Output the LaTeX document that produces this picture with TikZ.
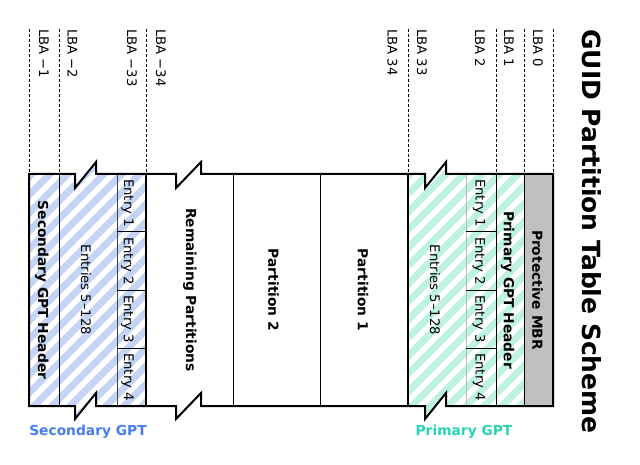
\documentclass[tikz,border=0pt]{standalone}
\usepackage{fontspec}
\setmainfont{DejaVu Sans}
\definecolor{secblue}{RGB}{197,212,245}
\definecolor{prigreen}{RGB}{190,243,228}
\definecolor{mbrgray}{RGB}{192,192,192}
\definecolor{seclabel}{RGB}{72,124,240}
\definecolor{prilabel}{RGB}{40,212,178}
\definecolor{lightdiv}{RGB}{185,185,185}
\newcommand\gptoutline{(29,174) -- (75,174) -- (75,188) -- (96,162) -- (96,174) -- (176,174) -- (176,188) -- (201,162) -- (201,174) -- (425,174) -- (425,188) -- (446,162) -- (446,174) -- (553,174) -- (553,406) -- (446,406) -- (446,393) -- (425,419) -- (425,406) -- (201,406) -- (201,393) -- (176,419) -- (176,406) -- (96,406) -- (96,393) -- (75,419) -- (75,406) -- (29,406) -- cycle}
\tikzset{
  lbalabel/.style={rotate=-90, anchor=west, inner sep=0pt, font=\fontsize{13.2}{15}\selectfont},
  collabel/.style={rotate=-90, inner sep=0pt, font=\fontsize{13.2}{15}\selectfont},
  boldlabel/.style={rotate=-90, inner sep=0pt, font=\fontsize{13.8}{16}\selectfont\bfseries},
  gptlabel/.style={anchor=base, inner sep=0pt, font=\fontsize{13.8}{16}\selectfont\bfseries},
  lbaline/.style={line width=1pt, dash pattern=on 3pt off 2pt},
  thindiv/.style={line width=1pt},
  thickdiv/.style={line width=2pt},
}
\begin{document}
\begin{tikzpicture}[x=1pt,y=-1pt]
\useasboundingbox (0,0) rectangle (640,465);
% stripes
\begin{scope}
  \clip \gptoutline;
  \clip (20,150) rectangle (146,430);
  \foreach \k in {-16,...,9} \draw[secblue, line width=7pt] ({\k*18},440) -- ++(300,-300);
\end{scope}
\begin{scope}
  \clip \gptoutline;
  \clip (408,150) rectangle (524,430);
  \foreach \k in {6,...,30} \draw[prigreen, line width=7pt] ({\k*18},440) -- ++(300,-300);
\end{scope}
\fill[mbrgray] (524,174) rectangle (553,406);
% coordinates for dividers
\coordinate (Atop) at (59,174);  \coordinate (Abot) at (59,406);
\coordinate (Btop) at (117,174); \coordinate (Bbot) at (117,406);
\coordinate (Ctop) at (146,174); \coordinate (Cbot) at (146,406);
\coordinate (Dtop) at (233,174); \coordinate (Dbot) at (233,406);
\coordinate (Etop) at (320,174); \coordinate (Ebot) at (320,406);
\coordinate (Ftop) at (408,174); \coordinate (Fbot) at (408,406);
\coordinate (Gtop) at (466,174); \coordinate (Gbot) at (466,406);
\coordinate (Htop) at (496,174); \coordinate (Hbot) at (496,406);
\coordinate (Itop) at (524,174); \coordinate (Ibot) at (524,406);
\draw[thindiv] (Atop) -- (Abot);
\draw[thindiv, black!75] (Btop) -- (Bbot);
\draw[thickdiv] (Ctop) -- (Cbot);
\draw[thindiv] (Dtop) -- (Dbot);
\draw[thindiv] (Etop) -- (Ebot);
\draw[thickdiv] (Ftop) -- (Fbot);
\draw[thindiv, lightdiv] (Gtop) -- (Gbot);
\draw[thindiv] (Htop) -- (Hbot);
\draw[thindiv] (Itop) -- (Ibot);
% entry cell dividers
\foreach \y/\j in {232/1,290/2,348/3}{
  \coordinate (sl\j) at (117,\y); \coordinate (sr\j) at (146,\y);
  \coordinate (pl\j) at (466,\y); \coordinate (pr\j) at (496,\y);
  \draw[thindiv] (sl\j) -- (sr\j);
  \draw[thindiv] (pl\j) -- (pr\j);
}
% outline
\draw[line width=2pt, line join=miter] \gptoutline;
% LBA dashed lines
\foreach \n/\x in {m1/29,m2/59,m34/146,p34/408,p2/496,p1/524,p0/553}{
  \coordinate (up\n) at (\x,29);
  \coordinate (dn\n) at (\x,174);
  \draw[lbaline] (up\n) -- (dn\n);
}
% LBA labels
\node[lbalabel] (lbam1) at (44,29) {LBA −1};
\node[lbalabel] (lbam2) at (72.5,29) {LBA −2};
\node[lbalabel] (lbam33) at (132,29) {LBA −33};
\node[lbalabel] (lbam34) at (161,29) {LBA −34};
\node[lbalabel] (lba34) at (392.5,29) {LBA 34};
\node[lbalabel] (lba33) at (422,29) {LBA 33};
\node[lbalabel] (lba2) at (480,29) {LBA 2};
\node[lbalabel] (lba1) at (509,29) {LBA 1};
\node[lbalabel] (lba0) at (538,29) {LBA 0};
% title
\node[rotate=-90, anchor=west, inner sep=0pt, font=\fontsize{25}{28}\selectfont\bfseries] (title) at (591.5,29) {GUID Partition Table Scheme};
% column labels
\node[boldlabel] (sechdr) at (42,290) {Secondary GPT Header};
\node[collabel] (secent) at (86,290) {Entries 5–128};
\node[collabel] (se1) at (127.5,203) {Entry 1};
\node[collabel] (se2) at (127.5,261) {Entry 2};
\node[collabel] (se3) at (127.5,319) {Entry 3};
\node[collabel] (se4) at (127.5,377) {Entry 4};
\node[boldlabel] (rem) at (190,290) {Remaining Partitions};
\node[boldlabel] (part2) at (273.5,290) {Partition 2};
\node[boldlabel] (part1) at (363,290) {Partition 1};
\node[collabel] (priment) at (435,290) {Entries 5–128};
\node[collabel] (pe1) at (479,203) {Entry 1};
\node[collabel] (pe2) at (479,261) {Entry 2};
\node[collabel] (pe3) at (479,319) {Entry 3};
\node[collabel] (pe4) at (479,377) {Entry 4};
\node[boldlabel] (prihdr) at (507.5,290) {Primary GPT Header};
\node[boldlabel] (mbr) at (537.5,290) {Protective MBR};
% bottom labels
\node[gptlabel, text=seclabel] (secgpt) at (88,435) {Secondary GPT};
\node[gptlabel, text=prilabel] (prigpt) at (464,435) {Primary GPT};
\end{tikzpicture}
\end{document}
